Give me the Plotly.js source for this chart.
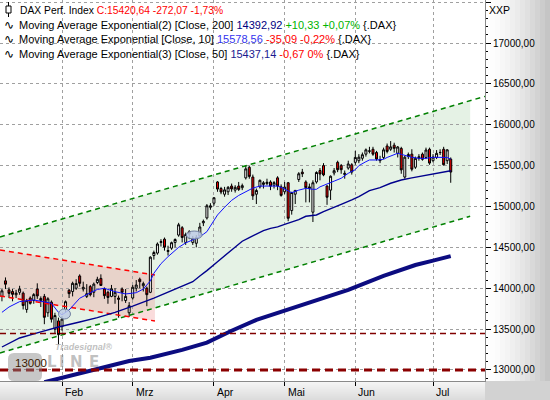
<!DOCTYPE html>
<html><head><meta charset="utf-8">
<script src="https://cdn.plot.ly/plotly-3.0.1.min.js"></script>
<style>html,body{margin:0;padding:0;background:#fff;}#chart{width:550px;height:400px;}</style>
</head><body><div id="chart"></div>
<script>
// ---------- DATA ----------
const dates = [
 '2021-01-07','2021-01-08','2021-01-11','2021-01-12','2021-01-13','2021-01-14','2021-01-15','2021-01-18','2021-01-19','2021-01-20','2021-01-21','2021-01-22','2021-01-25','2021-01-26','2021-01-27','2021-01-28','2021-01-29',
 '2021-02-01','2021-02-02','2021-02-03','2021-02-04','2021-02-05','2021-02-08','2021-02-09','2021-02-10','2021-02-11','2021-02-12','2021-02-15','2021-02-16','2021-02-17','2021-02-18','2021-02-19','2021-02-22','2021-02-23','2021-02-24','2021-02-25','2021-02-26',
 '2021-03-01','2021-03-02','2021-03-03','2021-03-04','2021-03-05','2021-03-08','2021-03-09','2021-03-10','2021-03-11','2021-03-12','2021-03-15','2021-03-16','2021-03-17','2021-03-18','2021-03-19','2021-03-22','2021-03-23','2021-03-24','2021-03-25','2021-03-26','2021-03-29','2021-03-30','2021-03-31',
 '2021-04-01','2021-04-06','2021-04-07','2021-04-08','2021-04-09','2021-04-12','2021-04-13','2021-04-14','2021-04-15','2021-04-16','2021-04-19','2021-04-20','2021-04-21','2021-04-22','2021-04-23','2021-04-26','2021-04-27','2021-04-28','2021-04-29','2021-04-30',
 '2021-05-03','2021-05-04','2021-05-05','2021-05-06','2021-05-07','2021-05-10','2021-05-11','2021-05-12','2021-05-13','2021-05-14','2021-05-17','2021-05-18','2021-05-19','2021-05-20','2021-05-21','2021-05-25','2021-05-26','2021-05-27','2021-05-28','2021-05-31',
 '2021-06-01','2021-06-02','2021-06-03','2021-06-04','2021-06-07','2021-06-08','2021-06-09','2021-06-10','2021-06-11','2021-06-14','2021-06-15','2021-06-16','2021-06-17','2021-06-18','2021-06-21','2021-06-22','2021-06-23','2021-06-24','2021-06-25','2021-06-28','2021-06-29','2021-06-30',
 '2021-07-01','2021-07-02','2021-07-05','2021-07-06','2021-07-07','2021-07-08'];
const open = [
 13900,14090,13980,13960,13920,13950,13940,13740,13880,13850,13990,13850,13900,13700,13830,13500,13600,
 13530,13740,13975,13960,14000,14150,13990,13900,14020,13950,14070,14120,13990,13950,13900,13900,13880,13990,13850,13700,
 13880,14000,14110,14030,14000,13950,14400,14430,14560,14600,14450,14490,14560,14650,14740,14560,14690,14560,14550,14640,14800,14860,14990,
 15040,15300,15220,15150,15180,15250,15200,15250,15230,15350,15480,15360,15150,15240,15270,15280,15300,15260,15350,15240,
 15180,15290,14950,15150,15330,15420,15300,15220,14930,15300,15440,15500,15250,15200,15410,15540,15500,15390,15470,15510,
 15540,15560,15590,15640,15680,15700,15660,15560,15600,15740,15700,15750,15650,15710,15360,15610,15640,15480,15590,15640,15600,15700,
 15560,15600,15660,15700,15560,15580];
const high = [
 13990,14132,14010,13990,13980,14030,13960,13870,13900,13940,14060,13900,13930,13890,13850,13700,13640,
 13660,13850,13990,14080,14110,14170,14080,14050,14040,14070,14140,14170,14010,13970,14040,14000,13910,14010,13990,13830,
 14040,14100,14130,14080,14020,14390,14460,14560,14600,14620,14520,14570,14610,14800,14760,14680,14710,14640,14650,14800,14840,15030,15040,
 15110,15310,15240,15240,15250,15280,15260,15300,15280,15500,15500,15390,15220,15330,15310,15340,15320,15310,15370,15270,
 15300,15300,15180,15200,15420,15460,15320,15280,15320,15430,15470,15530,15260,15380,15470,15560,15520,15440,15560,15530,
 15680,15640,15660,15710,15730,15730,15680,15620,15720,15770,15800,15780,15740,15730,15620,15660,15700,15610,15640,15660,15720,15720,
 15640,15690,15700,15730,15700,15600];
const low = [
 13840,13990,13880,13840,13880,13920,13740,13700,13800,13810,13870,13770,13560,13650,13580,13440,13310,
 13480,13700,13880,13900,13980,14020,13960,13880,13900,13890,14050,14030,13870,13810,13890,13810,13640,13840,13820,13650,
 13860,13960,14000,13960,13780,13940,14350,14410,14510,14460,14400,14470,14500,14630,14560,14530,14600,14530,14500,14630,14760,14840,14960,
 15010,15180,15150,15120,15140,15180,15170,15190,15200,15330,15340,15080,15030,15220,15220,15260,15200,15220,15200,15120,
 15150,14820,14900,15030,15300,15360,15050,15050,14810,15280,15320,15370,15020,15080,15380,15420,15400,15340,15450,15390,
 15510,15530,15560,15610,15650,15620,15560,15530,15580,15650,15680,15660,15600,15400,15340,15580,15430,15460,15560,15560,15580,15510,
 15540,15580,15630,15500,15520,15290];
const close = [
 13968,14049,13937,13925,13940,13989,13788,13848,13815,13922,13906,13874,13644,13871,13621,13666,13433,
 13622,13835,13934,14060,14057,14060,14011,13933,13921,14050,14109,14034,13909,13887,13993,13950,13865,13950,13900,13786,
 14012,14039,14080,14056,13921,14380,14437,14541,14570,14502,14461,14557,14596,14776,14621,14657,14662,14610,14621,14749,14818,15009,15008,
 15107,15213,15177,15203,15234,15215,15234,15209,15255,15460,15368,15130,15196,15320,15290,15296,15249,15292,15250,15136,
 15237,14856,15171,15197,15400,15400,15230,15240,15290,15416,15397,15386,15113,15370,15438,15450,15450,15406,15520,15421,
 15600,15603,15633,15693,15677,15640,15581,15571,15693,15674,15729,15711,15728,15448,15603,15636,15456,15589,15608,15577,15691,15531,
 15604,15650,15661,15511,15693,15421];

// Exponential moving averages (trading-day index, value)
const ema10Idx = [0,2,5,9,12,14,16,17,19,22,25,27,29,32,35,38,40,42,43,45,47,50,52,55,57,58,59,60,61,63,65,67,69,71,73,76,78,79,81,82,84,86,88,89,90,92,94,96,98,100,101,103,104,106,108,109,111,112,113,115,116,118,120,122,124,126,127];
const ema10Val = [13705,13770,13836,13856,13833,13815,13705,13675,13734,13877,13945,13985,13999,13958,13930,13945,13990,14090,14183,14300,14386,14500,14555,14610,14660,14692,14761,14835,14896,14990,15075,15135,15181,15225,15250,15254,15250,15235,15185,15169,15200,15222,15210,15210,15240,15280,15310,15345,15406,15450,15500,15548,15569,15569,15577,15600,15630,15651,15638,15612,15602,15589,15589,15602,15602,15600,15579];
const ema50Idx = [0,5,11,16,22,27,32,37,43,49,54,56,58,61,63,65,68,70,72,74,76,78,80,82,84,86,89,91,93,96,99,101,104,107,110,113,116,118,121,124,127];
const ema50Val = [13281,13391,13465,13526,13587,13640,13705,13780,13880,13990,14080,14150,14215,14325,14394,14468,14575,14620,14660,14705,14733,14750,14780,14810,14840,14880,14896,14936,14975,15025,15080,15120,15193,15230,15284,15324,15350,15365,15385,15406,15437];
const ema200Idx = [12,20,28,36,42,51,58,65,72,80,89,98,108,117,122,127];
const ema200Val = [12850,12935,13030,13110,13150,13245,13334,13480,13612,13722,13856,13979,14150,14284,14337,14393];

// Trend channels (index, value endpoints)
const channelTopIdx = [-0.55, 136.7], channelTopVal = [14627, 16347];
const channelBotIdx = [-0.55, 132.5], channelBotVal = [13208, 14880];
const wedgeTopIdx = [-0.55, 43.3], wedgeTopVal = [14468, 14162];
const wedgeBotIdx = [-0.55, 43.3], wedgeBotVal = [13905, 13599];
const supportLevels = [13445, 13000];

const monthKeys = ['2021-02','2021-03','2021-04','2021-05','2021-06','2021-07'];
const monthLabels = ['Feb','Mrz','Apr','Mai','Jun','Jul'];

const legendName = 'DAX Perf. Index', legendQuote = 'C:15420,64 -272,07 -1,73%';
const maRows = [
  {name:'Moving Average Exponential(2) [Close, 200]', value:'14392,92', change:'+10,33 +0,07%', valueColor:'#000080', changeColor:'#00b400'},
  {name:'Moving Average Exponential [Close, 10]', value:'15578,56', change:'-35,09 -0,22%', valueColor:'#3333ee', changeColor:'#ff0000'},
  {name:'Moving Average Exponential(3) [Close, 50]', value:'15437,14', change:'-0,67 0%', valueColor:'#1a1a90', changeColor:'#ff0000'}
];

// ---------- CHART ----------
const xIdx = dates.map((d, i) => i);
const monthIdx = monthKeys.map(k => dates.findIndex(d => d.startsWith(k)));
const FONT = 'Liberation Sans, Arial, sans-serif';
const PW = 485, PH = 381;
const px = v => v / PW, py = v => 1 - v / PH;

const lineAt = (xs, ys, x) => ys[0] + (ys[1] - ys[0]) * (x - xs[0]) / (xs[1] - xs[0]);
const fillEnd = channelBotIdx[1];
const greenPath = `M ${channelTopIdx[0]},${channelTopVal[0]} L ${fillEnd},${lineAt(channelTopIdx, channelTopVal, fillEnd)} L ${channelBotIdx[1]},${channelBotVal[1]} L ${channelBotIdx[0]},${channelBotVal[0]} Z`;
const wedgePath = `M ${wedgeTopIdx[0]},${wedgeTopVal[0]} L ${wedgeTopIdx[1]},${wedgeTopVal[1]} L ${wedgeBotIdx[1]},${wedgeBotVal[1]} L ${wedgeBotIdx[0]},${wedgeBotVal[0]} Z`;

const traces = [
  {type:'scatter', mode:'lines', x:channelTopIdx, y:channelTopVal, line:{color:'#008000', width:1.5, dash:'5px,4px'}, hoverinfo:'skip'},
  {type:'scatter', mode:'lines', x:channelBotIdx, y:channelBotVal, line:{color:'#008000', width:1.5, dash:'5px,4px'}, hoverinfo:'skip'},
  {type:'scatter', mode:'lines', x:wedgeTopIdx, y:wedgeTopVal, line:{color:'#ff0000', width:1.5, dash:'5px,4px'}, hoverinfo:'skip'},
  {type:'scatter', mode:'lines', x:wedgeBotIdx, y:wedgeBotVal, line:{color:'#ff0000', width:1.5, dash:'5px,4px'}, hoverinfo:'skip'},
  {type:'candlestick', x:xIdx, open:open, high:high, low:low, close:close,
   increasing:{line:{color:'#000000', width:1}, fillcolor:'#ffffff'},
   decreasing:{line:{color:'#000000', width:1}, fillcolor:'#ee0000'},
   whiskerwidth:0, hoverinfo:'skip'},
  {type:'scatter', mode:'lines', x:ema200Idx, y:ema200Val, line:{color:'#0c0c80', width:4}, hoverinfo:'skip'},
  {type:'scatter', mode:'lines', x:ema50Idx, y:ema50Val, line:{color:'#00008c', width:1.4}, hoverinfo:'skip'},
  {type:'scatter', mode:'lines', x:ema10Idx, y:ema10Val, line:{color:'#1010ff', width:1}, hoverinfo:'skip'}
];

const shapes = [];
// right axis panel gradient
for (let i = 0; i < 13; i++) {
  const t = (i + 0.5) / 13;
  const g = Math.round(255 - 62 * Math.pow(t, 1.6));
  shapes.push({type:'rect', xref:'paper', yref:'paper', x0:px(PW + 5 * i), x1:px(PW + 5 * i + 5), y0:py(PH), y1:1, fillcolor:`rgb(${g},${g},${g})`, line:{width:0}, layer:'below'});
}
// bottom axis bar gradient
for (let i = 0; i < 19; i++) {
  const g = Math.round(246 - 26 * i / 18);
  shapes.push({type:'rect', xref:'paper', yref:'paper', x0:0, x1:1, y0:py(PH + i), y1:py(PH + i + 1), fillcolor:`rgb(${g},${g},${g})`, line:{width:0}, layer:'below'});
}
shapes.push({type:'rect', xref:'paper', yref:'paper', x0:1, x1:px(550), y0:py(400), y1:py(PH), fillcolor:'#d2d2d2', line:{width:0}, layer:'below'});
// channel fills
shapes.push({type:'path', xref:'x', yref:'y', path:greenPath, fillcolor:'rgb(229,242,229)', line:{width:0}, layer:'below'});
shapes.push({type:'path', xref:'x', yref:'y', path:wedgePath, fillcolor:'rgba(240,140,140,0.3)', line:{width:0}, layer:'below'});
// support lines
shapes.push({type:'line', xref:'paper', yref:'y', x0:0, x1:1, y0:supportLevels[0], y1:supportLevels[0], line:{color:'#800000', width:1.5, dash:'6px,4px'}});
shapes.push({type:'line', xref:'paper', yref:'y', x0:0, x1:1, y0:supportLevels[1], y1:supportLevels[1], line:{color:'#8b0000', width:3, dash:'8px,5px'}});
// event bubbles
shapes.push({type:'circle', xref:'x', yref:'y', xsizemode:'pixel', ysizemode:'pixel', xanchor:17.7, yanchor:13685, x0:-6, x1:6, y0:-5, y1:5, fillcolor:'rgba(190,205,230,0.85)', line:{color:'#7080a0', width:1}});
shapes.push({type:'circle', xref:'x', yref:'y', xsizemode:'pixel', ysizemode:'pixel', xanchor:54.4, yanchor:14651, x0:-8, x1:8, y0:-4, y1:4, fillcolor:'rgba(190,205,230,0.85)', line:{color:'#7080a0', width:1}});
// watermark "O"
shapes.push({type:'path', xref:'paper', yref:'paper',
  path:`M ${px(14)},${py(353)} L ${px(36)},${py(353)} Q ${px(42)},${py(353)} ${px(42)},${py(359)} L ${px(42)},${py(375)} Q ${px(42)},${py(381)} ${px(36)},${py(381)} L ${px(14)},${py(381)} Q ${px(8)},${py(381)} ${px(8)},${py(375)} L ${px(8)},${py(359)} Q ${px(8)},${py(353)} ${px(14)},${py(353)} Z`,
  fillcolor:'rgba(130,130,130,0.45)', line:{width:0}});
// legend candle icon
shapes.push({type:'line', xref:'paper', yref:'paper', x0:px(8.5), x1:px(8.5), y0:py(2), y1:py(17), line:{color:'#000', width:1}});
shapes.push({type:'rect', xref:'paper', yref:'paper', x0:px(6), x1:px(11), y0:py(6), y1:py(13), fillcolor:'#ffffff', line:{color:'#000', width:1}});

const annotations = [];
const legY = [10, 25, 39.5, 54];
annotations.push({xref:'paper', yref:'paper', x:px(18), y:py(legY[0]), xanchor:'left', yanchor:'middle', showarrow:false,
  text:`<span style="color:#000">${legendName} </span><span style="color:#ff0000">${legendQuote}</span>`, font:{family:FONT, size:10.3, color:'#000'}});
maRows.forEach((r, i) => {
  annotations.push({xref:'paper', yref:'paper', x:px(2), y:py(legY[i + 1]), xanchor:'left', yanchor:'middle', showarrow:false,
    text:'∿', font:{family:'DejaVu Sans', size:12, color:'#000'}});
  annotations.push({xref:'paper', yref:'paper', x:px(17), y:py(legY[i + 1]), xanchor:'left', yanchor:'middle', showarrow:false,
    text:`${r.name} <span style="color:${r.valueColor}">${r.value}</span> <span style="color:${r.changeColor}">${r.change}</span> {.DAX}`,
    font:{family:FONT, size:11, color:'#000'}});
});
annotations.push({xref:'paper', yref:'paper', x:px(487), y:py(10), xanchor:'left', yanchor:'middle', showarrow:false, text:'XXP', font:{family:FONT, size:10.5, color:'#000'}});
monthIdx.forEach((m, i) => {
  annotations.push({xref:'x', yref:'paper', x:m, xshift:1, y:py(392), xanchor:'left', yanchor:'middle', showarrow:false, text:monthLabels[i], font:{family:FONT, size:10.5, color:'#000'}});
});
// watermark text
const wmLetters = ['L','I','N','E'], wmCenters = [52, 62.5, 76, 94];
wmLetters.forEach((ch, i) => {
  annotations.push({xref:'paper', yref:'paper', x:px(wmCenters[i]), y:py(362), xanchor:'center', yanchor:'middle', showarrow:false,
    text:`<b>${ch}</b>`, font:{family:'DejaVu Sans', size:15, color:'rgba(140,140,140,0.55)'}});
});
annotations.push({xref:'paper', yref:'paper', x:px(53), y:py(347), xanchor:'left', yanchor:'middle', showarrow:false, text:'<b><i>Tradesignal®</i></b>', font:{family:FONT, size:9, color:'rgba(175,175,175,0.8)'}});
// 13000 line label
annotations.push({xref:'paper', yref:'paper', x:px(13), y:py(363), xanchor:'left', yanchor:'middle', showarrow:false, text:'13000',
  font:{family:FONT, size:11.5, color:'#3a1c00'}});

const layout = {
  width:550, height:400,
  margin:{l:0, r:65, t:0, b:19, pad:0},
  paper_bgcolor:'#ffffff', plot_bgcolor:'#ffffff',
  showlegend:false, separators:',.', hovermode:false,
  font:{family:FONT, size:10.5, color:'#000'},
  xaxis:{type:'linear', range:[-0.55, 136.7], rangeslider:{visible:false}, tickmode:'array', tickvals:monthIdx, showticklabels:false,
    ticks:'outside', ticklen:4, tickcolor:'#000', showgrid:true, gridcolor:'#a0a0a0', griddash:'dot', gridwidth:1,
    showline:true, linecolor:'#8a8a8a', linewidth:1, mirror:true, zeroline:false, fixedrange:true},
  yaxis:{side:'right', range:[12865, 17526], tick0:13000, dtick:500, tickformat:'.2f', ticks:'outside', ticklen:5, tickcolor:'#000',
    tickfont:{family:FONT, size:10, color:'#000'}, showgrid:true, gridcolor:'#a0a0a0', griddash:'dot', gridwidth:1,
    minor:{dtick:100, tick0:13000, ticks:'outside', ticklen:2, tickcolor:'#000', showgrid:false},
    showline:true, linecolor:'#8a8a8a', linewidth:1, mirror:true, zeroline:false, fixedrange:true},
  boxgap:0.2,
  shapes:shapes, annotations:annotations
};
Plotly.newPlot('chart', traces, layout, {staticPlot:true, displayModeBar:false});
</script></body></html>
